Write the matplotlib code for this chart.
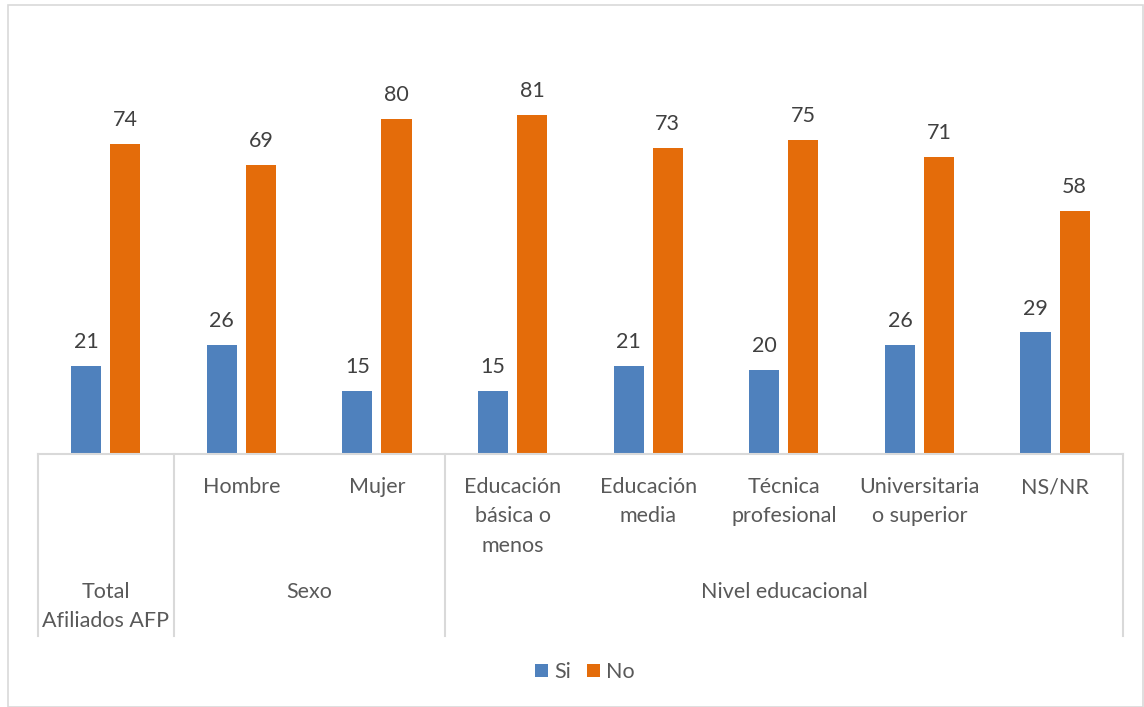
import matplotlib.pyplot as plt
import matplotlib.patches as mpatches
import numpy as np

# Values (%)
categories = ['Total\nAfiliados AFP', 'Hombre', 'Mujer', 'Educación\nbásica o\nmenos',
              'Educación\nmedia', 'Técnica\nprofesional', 'Universitaria\no superior', 'NS/NR']
si_values = [21, 26, 15, 15, 21, 20, 26, 29]
no_values = [74, 69, 80, 81, 73, 75, 71, 58]

# outer level: (label, first index, last index)
groups = [('Sexo', 1, 2), ('Nivel educacional', 3, 7)]

SI_COLOR = '#4F81BD'
NO_COLOR = '#E46C0A'
GRID_COLOR = '#D9D9D9'
TEXT_COLOR = '#595959'
FS = 15.5

plt.rcParams['font.family'] = ['Lato', 'DejaVu Sans']

fig = plt.figure(figsize=(11.44, 7.07), dpi=100)
ax = fig.add_axes([38 / 1144, (707 - 454) / 707, (1123 - 38) / 1144, 419 / 707])

# light border around the whole chart
fig.patches.append(mpatches.Rectangle((8 / 1144, 0.0), 1135 / 1144, (707 - 5) / 707,
                                      transform=fig.transFigure, fill=False,
                                      edgecolor=GRID_COLOR, linewidth=1.2))

x = np.arange(len(categories))
w = 0.222
b1 = ax.bar(x - 0.145, si_values, w, color=SI_COLOR, label='Si')
b2 = ax.bar(x + 0.143, no_values, w, color=NO_COLOR, label='No')

for bars in (b1, b2):
    for rect in bars:
        ax.annotate(f'{rect.get_height():.0f}',
                    (rect.get_x() + rect.get_width() / 2, rect.get_height()),
                    xytext=(0, 10), textcoords='offset points',
                    ha='center', va='bottom', fontsize=FS, color='#404040')

ax.set_xlim(-0.5, len(categories) - 0.5)
ax.set_ylim(0, 100)
ax.set_yticks([])
ax.set_xticks([])
for s in ['top', 'right', 'left']:
    ax.spines[s].set_visible(False)
ax.spines['bottom'].set_color(GRID_COLOR)
ax.spines['bottom'].set_linewidth(1.5)

# multi-level category axis
trans = ax.get_xaxis_transform()
line_bottom = -182 / 419
for xb in [-0.5, 0.5, 2.5, len(categories) - 0.5]:
    ax.plot([xb, xb], [0, line_bottom], transform=trans, color=GRID_COLOR,
            linewidth=1.5, clip_on=False)

for i, lab in enumerate(categories):
    if i == 0:
        continue
    ax.text(i, -23 / 419, lab, transform=trans, ha='center', va='top',
            fontsize=FS, color=TEXT_COLOR, linespacing=1.58)

ax.text(0, -128 / 419, categories[0], transform=trans, ha='center', va='top',
        fontsize=FS, color=TEXT_COLOR, linespacing=1.58)
for name, i0, i1 in groups:
    ax.text((i0 + i1) / 2, -128 / 419, name, transform=trans, ha='center', va='top',
            fontsize=FS, color=TEXT_COLOR)

fig.legend(handles=[b1, b2], labels=['Si', 'No'], loc='center',
           bbox_to_anchor=(585 / 1144, 35 / 707), ncol=2, frameon=False,
           fontsize=FS, handlelength=0.6, handleheight=0.6,
           columnspacing=0.7, handletextpad=0.3, labelcolor=TEXT_COLOR)

plt.savefig('out.png', dpi=100)
